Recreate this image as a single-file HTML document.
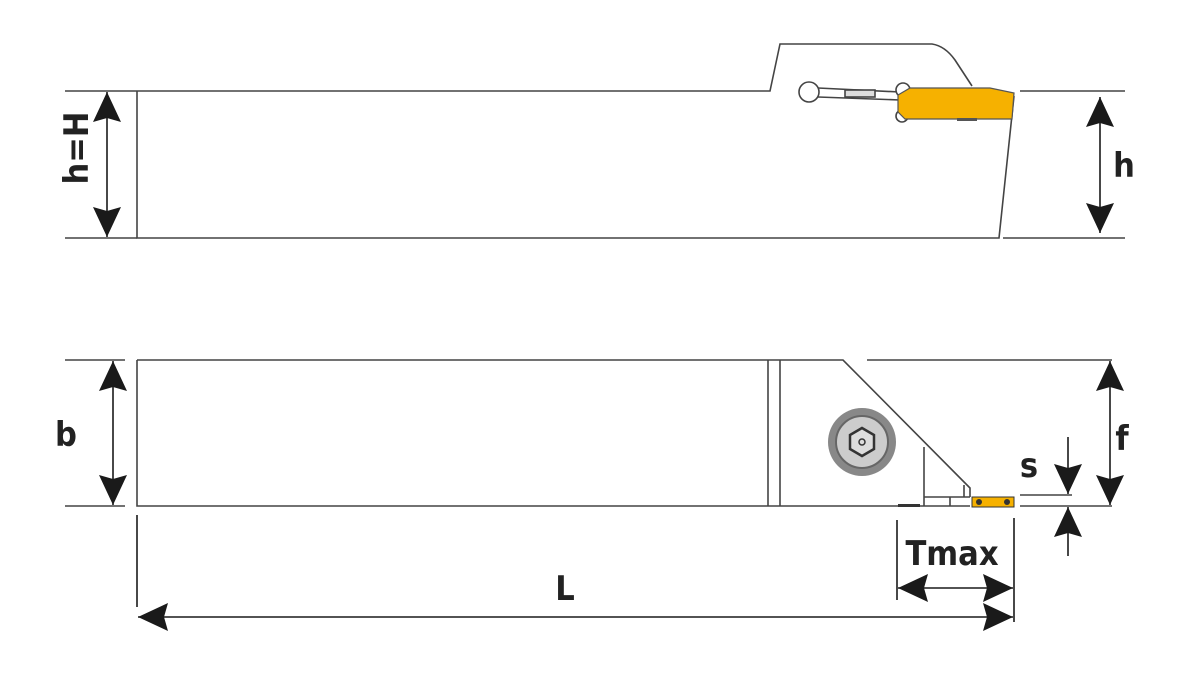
<!DOCTYPE html>
<html><head><meta charset="utf-8"><style>
html,body{margin:0;padding:0;background:#fff;}
svg{display:block;}
text{font-family:"DejaVu Sans Condensed","DejaVu Sans","Liberation Sans",sans-serif;font-weight:bold;fill:#222;}
</style></head><body>
<svg width="1198" height="686" viewBox="0 0 1198 686" xmlns="http://www.w3.org/2000/svg">
<defs>
<marker id="ah" viewBox="0 0 30 28" refX="30" refY="14" markerWidth="30" markerHeight="28" markerUnits="userSpaceOnUse" orient="auto-start-reverse">
<path d="M0,0 L30,14 L0,28 L4,14 Z" fill="#1a1a1a"/>
</marker>
</defs>
<g stroke="#444" stroke-width="1.6" fill="none">
<path d="M137,91 L770,91 L780,44 L932,44 Q945,46 955,60 L972,86"/>
<path d="M137,91 L137,238 L999,238 L1014,96"/>
<line x1="65" y1="91" x2="137" y2="91"/>
<line x1="65" y1="238" x2="137" y2="238"/>
<line x1="1020" y1="91" x2="1125" y2="91"/>
<line x1="1003" y1="238" x2="1125" y2="238"/>
<circle cx="809" cy="92" r="10" fill="#fff"/>
<path d="M818,88 L900,92 M818,97 L900,100"/>
<rect x="845" y="90" width="30" height="7" fill="#ddd"/>
<circle cx="903" cy="90" r="7" fill="#fff"/>
<circle cx="902" cy="116" r="6" fill="#fff"/>
</g>
<path d="M898,95 L910,88 L990,88 L1014,93 L1012,119 L905,119 L898,112 Z" fill="#f6b100" stroke="#555" stroke-width="1.2"/>
<rect x="957" y="118" width="20" height="3" fill="#555"/>
<g stroke="#444" stroke-width="1.6" fill="none">
<path d="M137,360 L843,360 L970,488 L970,497"/>
<path d="M137,360 L137,506 L970,506"/>
<line x1="867" y1="360" x2="1112" y2="360"/>
<line x1="768" y1="360" x2="768" y2="506"/>
<line x1="780" y1="360" x2="780" y2="506"/>
<line x1="924" y1="447" x2="924" y2="506"/>
<path d="M924,497 L970,497 M950,497 L950,506 M964,485 L964,497"/>
<line x1="65" y1="360" x2="125" y2="360"/>
<line x1="65" y1="506" x2="125" y2="506"/>
<line x1="1020" y1="506" x2="1112" y2="506"/>
<line x1="1020" y1="495" x2="1072" y2="495"/>
</g>
<rect x="898" y="504" width="22" height="3" fill="#333"/>
<circle cx="862" cy="442" r="34" fill="#888"/>
<circle cx="862" cy="442" r="26" fill="#ccc" stroke="#666" stroke-width="2"/>
<polygon points="862,428 874,435 874,449 862,456 850,449 850,435" fill="#ddd" stroke="#333" stroke-width="2.5"/>
<circle cx="862" cy="442" r="3" fill="none" stroke="#333" stroke-width="1.5"/>
<rect x="972" y="497" width="42" height="10" fill="#f6b100" stroke="#333" stroke-width="1"/>
<circle cx="979" cy="502" r="3" fill="#333"/><circle cx="1007" cy="502" r="3" fill="#333"/>
<g stroke="#1a1a1a" stroke-width="1.6" fill="none">
<line x1="107" y1="92" x2="107" y2="237" marker-start="url(#ah)" marker-end="url(#ah)"/>
<line x1="1100" y1="97" x2="1100" y2="233" marker-start="url(#ah)" marker-end="url(#ah)"/>
<line x1="113" y1="361" x2="113" y2="505" marker-start="url(#ah)" marker-end="url(#ah)"/>
<line x1="1110" y1="361" x2="1110" y2="505" marker-start="url(#ah)" marker-end="url(#ah)"/>
<line x1="1068" y1="437" x2="1068" y2="494" marker-end="url(#ah)"/>
<line x1="1068" y1="556" x2="1068" y2="507" marker-end="url(#ah)"/>
<line x1="137" y1="515" x2="137" y2="607"/>
<line x1="1014" y1="518" x2="1014" y2="622"/>
<line x1="897" y1="520" x2="897" y2="600"/>
<line x1="138" y1="617" x2="1013" y2="617" marker-start="url(#ah)" marker-end="url(#ah)"/>
<line x1="898" y1="588" x2="1013" y2="588" marker-start="url(#ah)" marker-end="url(#ah)"/>
</g>
<text x="0" y="0" font-size="34" text-anchor="middle" transform="translate(88,148) rotate(-90)">h=H</text>
<text x="1124" y="177" font-size="34" text-anchor="middle">h</text>
<text x="66" y="446" font-size="34" text-anchor="middle">b</text>
<text x="1122" y="450" font-size="34" text-anchor="middle">f</text>
<text x="1029" y="477" font-size="34" text-anchor="middle">s</text>
<text x="952" y="565" font-size="34" text-anchor="middle">Tmax</text>
<text x="565" y="600" font-size="34" text-anchor="middle">L</text>
</svg>
</body></html>
